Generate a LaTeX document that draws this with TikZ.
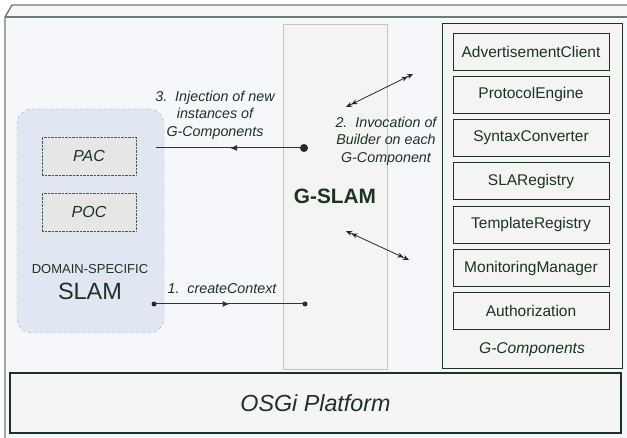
\documentclass[tikz,border=0pt]{standalone}
\usepackage{fontspec}
\setmainfont{Liberation Sans}
\usetikzlibrary{arrows.meta,decorations.markings}
\definecolor{ink}{RGB}{28,50,36}
\definecolor{frameline}{RGB}{110,125,115}
\definecolor{framefill}{RGB}{245,247,250}
\definecolor{colfill}{RGB}{244,245,243}
\definecolor{slamfill}{RGB}{225,231,242}
\definecolor{boxfill}{RGB}{230,230,230}
\begin{document}
\begin{tikzpicture}[x=1pt,y=-1pt,
  comp/.style={draw=ink,line width=0.9pt,minimum width=156pt,minimum height=37pt,
    font=\fontsize{15.5}{18}\selectfont,text=ink},
  inbox/.style={draw=ink!80,densely dotted,fill=boxfill,minimum width=94pt,minimum height=38pt,
    font=\fontsize{16}{19}\selectfont\itshape,text=ink},
  lbl/.style={font=\fontsize{14.3}{17.5}\selectfont\itshape,text=ink,align=center},
  dot/.style={circle,fill=black!85,inner sep=0pt,minimum size=#1},
  midarrow/.style={draw=black!80,line width=1pt,postaction={decorate},
    decoration={markings,mark=at position 0.5 with {\arrow{Latex[length=7pt,width=6pt]}}}},
  dbl/.style={black!85,line width=0.8pt,
    {Stealth[length=6pt,width=5pt]Stealth[length=6pt,width=5pt]}-{Stealth[length=6pt,width=5pt]Stealth[length=6pt,width=5pt]}}
]
\useasboundingbox (0,0) rectangle (627,438);
\clip (0,0) rectangle (627,438);

% outer node frame
\fill[framefill] (5,17) -- (12,5) -- (640,5) -- (640,450) -- (5,450) -- cycle;
\draw[frameline,line width=1.4pt] (5,450) -- (5,17) -- (12,5) -- (640,5);
\draw[frameline,line width=1.4pt] (5,17) -- (640,17);

\node[draw=gray!45,fill=colfill,minimum width=104pt,minimum height=345pt,
  font=\fontsize{20.8}{24}\selectfont\bfseries,text=ink] (gslam) at (335,196.5) {G-SLAM};

\node[draw=ink,line width=1pt,fill=colfill,minimum width=180pt,minimum height=345pt] (gcomp) at (532,196.5) {};
\foreach \name [count=\i from 0] in {AdvertisementClient,ProtocolEngine,SyntaxConverter,
    SLARegistry,TemplateRegistry,MonitoringManager,Authorization}
  \node[comp] (c\i) at (531,51.5+43.3*\i) {\name};
\node[font=\fontsize{15.6}{18}\selectfont\itshape,text=ink] (gcomplbl) at (532,350) {G-Components};

\node[draw=ink,line width=1.2pt,fill=black!4,minimum width=611pt,minimum height=60pt,
  font=\fontsize{23.3}{28}\selectfont\itshape,text=ink] (osgi) at (315.5,403) {OSGi Platform};

\node[draw=gray!70,dashed,rounded corners=15pt,fill=slamfill,minimum width=147pt,minimum height=224pt] (slam) at (90.5,221) {};
\node[inbox] (pac) at (89,156) {PAC};
\node[inbox] (poc) at (89,212) {POC};
\node[font=\fontsize{13}{15}\selectfont,text=ink] (dstxt) at (90,269) {DOMAIN-SPECIFIC};
\node[font=\fontsize{23.5}{27}\selectfont,text=ink] (slamtxt) at (90,291) {SLAM};

\node[dot=8pt] (inj) at (304,148) {};
\coordinate (injend) at (156,148);
\draw[midarrow] (inj.center) -- (injend);
\node[lbl] (l3) at (215,115) {3.~~Injection of new\\instances of\\G-Components};

\node[dot=5pt] (ctxa) at (154,304) {};
\node[dot=5pt] (ctxb) at (305,304) {};
\draw[midarrow] (ctxa.center) -- (ctxb.center);
\node[lbl] (l1) at (222,289) {1.~~createContext};

\coordinate (up1) at (346,107);
\coordinate (up2) at (413,74);
\coordinate (dn1) at (346,231);
\coordinate (dn2) at (409,260);
\draw[dbl] (up1) -- (up2);
\draw[dbl] (dn1) -- (dn2);
\node[lbl] (l2) at (386,141) {2.~~Invocation of\\Builder on each\\G-Component};
\end{tikzpicture}
\end{document}
